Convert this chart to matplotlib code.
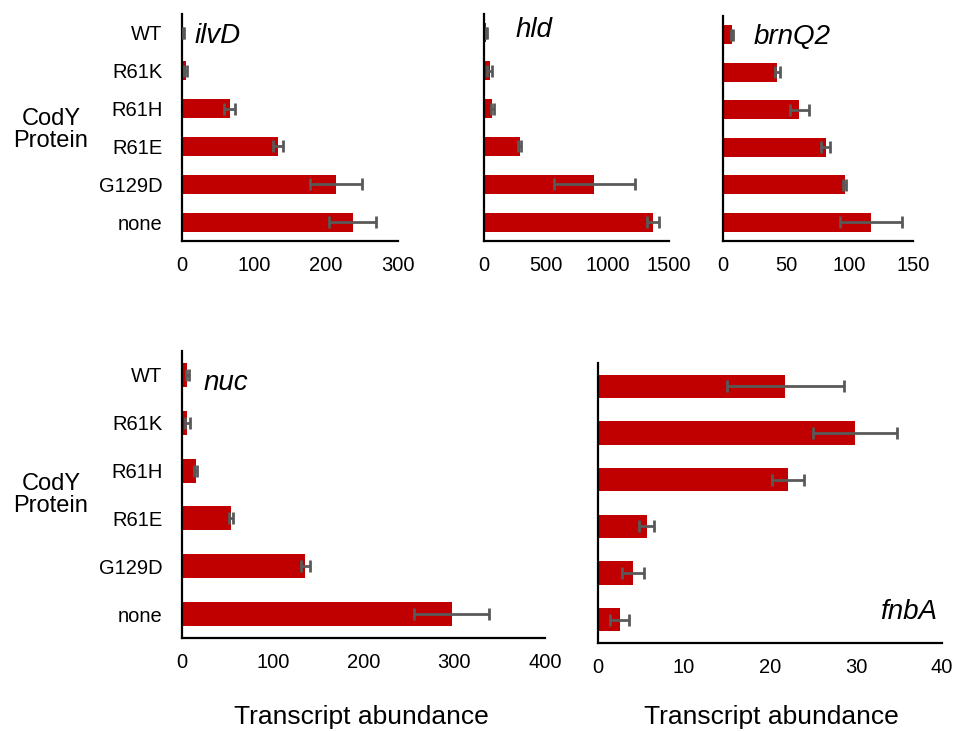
import matplotlib.pyplot as plt
import numpy as np

# categories (top to bottom)
proteins = ["WT", "R61K", "R61H", "R61E", "G129D", "none"]

# transcript abundance means and error
ilvD = [2, 5, 66, 133, 214, 237]
ilvD_err = [1, 2, 8, 7, 36, 33]
hld = [18, 46, 68, 289, 893, 1368]
hld_err = [5, 20, 15, 12, 328, 48]
brnQ2 = [7, 43, 60, 81, 96, 117]
brnQ2_err = [1, 2, 7.5, 3.5, 1.5, 24.5]
nuc = [6, 6, 15, 54, 136, 297]
nuc_err = [2, 3, 1.5, 2.5, 5, 41]
fnbA = [21.8, 29.9, 22.1, 5.65, 4.07, 2.5]
fnbA_err = [6.85, 4.85, 1.9, 0.9, 1.3, 1.1]

bar_color = "#C00000"
err_color = "#595959"

W, H = 958, 731
fig = plt.figure(figsize=(W / 100, H / 100), dpi=100)
plt.rcParams['font.family'] = ['Liberation Sans', 'DejaVu Sans']


def make_axes(x0, x1, y0, y1):
    # pixel box -> figure fraction
    return fig.add_axes([x0 / W, 1 - y1 / H, (x1 - x0) / W, (y1 - y0) / H])


def draw(ax, vals, errs, xmax, ticks, gene, gx, gy, ha='left', ylabels=False):
    y = np.arange(len(proteins))
    ax.barh(y, vals, height=0.5, color=bar_color, zorder=2)
    ax.errorbar(vals, y, xerr=errs, fmt='none', ecolor=err_color,
                elinewidth=2, capsize=4, capthick=2, zorder=3)
    ax.set_ylim(len(proteins) - 0.5, -0.5)
    ax.set_xlim(0, xmax)
    ax.set_xticks(ticks)
    ax.tick_params(axis='x', length=0, pad=11, labelsize=14.5)
    if ylabels:
        ax.set_yticks(y)
        ax.set_yticklabels(proteins)
        ax.tick_params(axis='y', length=0, pad=14, labelsize=14.5)
    else:
        ax.set_yticks([])
    for s in ['top', 'right']:
        ax.spines[s].set_visible(False)
    for s in ['left', 'bottom']:
        ax.spines[s].set_linewidth(1.6)
        ax.spines[s].set_color('black')
    ax.text(gx, gy, gene, transform=ax.transAxes, fontsize=20,
            style='italic', ha=ha, va='center')


ax1 = make_axes(182, 398, 14, 241)
draw(ax1, ilvD, ilvD_err, 300, [0, 100, 200, 300], "ilvD", 0.06, 0.905, ylabels=True)

ax2 = make_axes(484, 669, 14, 241)
draw(ax2, hld, hld_err, 1500, [0, 500, 1000, 1500], "hld", 0.17, 0.93)

ax3 = make_axes(723, 913, 16, 241)
draw(ax3, brnQ2, brnQ2_err, 150, [0, 50, 100, 150], "brnQ2", 0.16, 0.905)

ax4 = make_axes(182, 545, 351, 638)
draw(ax4, nuc, nuc_err, 400, [0, 100, 200, 300, 400], "nuc", 0.06, 0.89, ylabels=True)

ax5 = make_axes(598, 942, 363, 643)
draw(ax5, fnbA, fnbA_err, 40, [0, 10, 20, 30, 40], "fnbA", 0.985, 0.11, ha='right')

fig.text(51 / W, 1 - 130 / H, "CodY\nProtein", fontsize=17, ha='center', va='center',
         linespacing=1.0)
fig.text(51 / W, 1 - 495 / H, "CodY\nProtein", fontsize=17, ha='center', va='center',
         linespacing=1.0)
fig.text(361 / W, 1 - 717 / H, "Transcript abundance", fontsize=19, ha='center', va='center')
fig.text(771 / W, 1 - 717 / H, "Transcript abundance", fontsize=19, ha='center', va='center')

fig.savefig("out.png", dpi=100)
